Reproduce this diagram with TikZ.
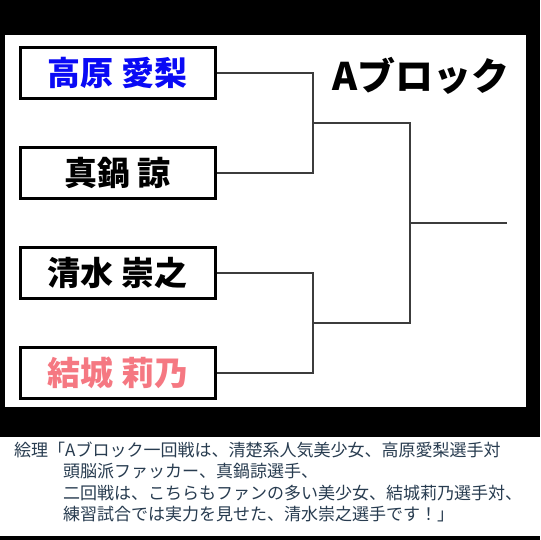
\documentclass[tikz,border=0pt]{standalone}
\usepackage{fontspec}
\newfontfamily\cjk{Noto Sans CJK JP}
\usepackage{xcolor}
\usetikzlibrary{calc,positioning}
\definecolor{nameblue}{RGB}{10,10,245}
\definecolor{namepink}{RGB}{245,120,130}
\definecolor{captext}{RGB}{40,60,80}
\definecolor{bline}{RGB}{60,60,60}

\begin{document}
\begin{tikzpicture}[x=1pt,y=-1pt]
				\tikzstyle{pbox}=[rectangle, draw=black, line width=3pt, fill=white, minimum width=195pt, minimum height=51pt, inner sep=0pt, font=\cjk\bfseries\fontsize{33}{33}\selectfont]
				\tikzstyle{bracket}=[draw=bline, line width=1.4pt]
				\tikzstyle{capline}=[anchor=base west, inner sep=0pt, text=captext, font=\cjk\fontsize{17}{17}\selectfont]
				\fill[black] (0,0) rectangle (540,540);
				\fill[white] (5,35) rectangle (526,407);
				\fill[white] (0,437) rectangle (540,536);
				\node[pbox, text=nameblue] (takahara) at (117.5,73) {高原 愛梨};
				\node[pbox] (manabe) at (117.5,173) {真鍋 諒};
				\node[pbox] (shimizu) at (117.5,273) {清水 崇之};
				\node[pbox, text=namepink] (yuuki) at (117.5,373) {結城 莉乃};
				\node[font=\cjk\bfseries\fontsize{38}{38}\selectfont, inner sep=0pt] (block) at (421,76) {Aブロック};
				\coordinate (semi1) at (313,123);
				\coordinate (semi2) at (313,323);
				\coordinate (final) at (410,223);
				\coordinate (champ) at (507,223);
				\draw[bracket] (takahara.east) -| (semi1) |- (manabe.east);
				\draw[bracket] (shimizu.east) -| (semi2) |- (yuuki.east);
				\draw[bracket] (semi1) -| (final) |- (semi2);
				\draw[bracket] (final) -- (champ);
				\node[capline] (cap1) at (14,456) {絵理「Aブロック一回戦は、清楚系人気美少女、高原愛梨選手対};
				\node[capline] (cap2) at (63,477.5) {頭脳派ファッカー、真鍋諒選手、};
				\node[capline] (cap3) at (63,499) {二回戦は、こちらもファンの多い美少女、結城莉乃選手対、};
				\node[capline] (cap4) at (63,520.5) {練習試合では実力を見せた、清水崇之選手です！」};
			\end{tikzpicture}
\end{document}
